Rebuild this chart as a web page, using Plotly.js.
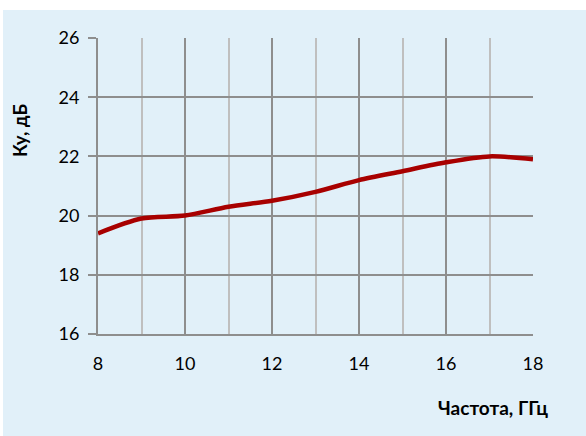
<!DOCTYPE html>
<html><head><meta charset="utf-8">
<script src="https://cdn.plot.ly/plotly-3.0.1.min.js"></script>
<style>html,body{margin:0;padding:0;background:#fff}</style>
</head><body>
<div id="chart" style="width:586px;height:436px"></div>
<script>
const freq = [8, 9, 10, 11, 12, 13, 14, 15, 16, 17, 18];
const gain = [19.4, 19.9, 20.0, 20.3, 20.5, 20.8, 21.2, 21.5, 21.8, 22.0, 21.9];
const xTicks = [8, 10, 12, 14, 16, 18];
const xMinor = [9, 11, 13, 15, 17];
const yTicks = [16, 18, 20, 22, 24, 26];
const xTitle = 'Частота, ГГц';
const yTitle = 'Ку, дБ';

const fontFam = 'Lato, "Open Sans", sans-serif';
const major = '#8E8E8E';
const minorC = '#BFBFBF';

Plotly.newPlot('chart', [{
  x: freq, y: gain, type: 'scatter', mode: 'lines',
  line: {color: '#A80000', width: 4.5, shape: 'spline', smoothing: 0.8},
  hoverinfo: 'skip'
}], {
  width: 586, height: 436,
  margin: {l: 98, r: 53, t: 38, b: 102},
  paper_bgcolor: '#ffffff',
  plot_bgcolor: 'rgba(0,0,0,0)',
  showlegend: false,
  font: {family: fontFam, color: '#000', size: 18},
  xaxis: {
    range: [8, 18], tickmode: 'array', tickvals: xTicks, ticktext: xTicks.map(String),
    showgrid: true, gridcolor: major, gridwidth: 2,
    minor: {tickmode: 'array', tickvals: xMinor, showgrid: true, gridcolor: minorC, gridwidth: 2, ticks: ''},
    showline: true, linecolor: major, linewidth: 2, mirror: false,
    ticks: '', ticklabelstandoff: 12, zeroline: false, fixedrange: true,
    tickfont: {size: 18, family: fontFam}
  },
  yaxis: {
    range: [16, 26], tickvals: yTicks, ticktext: yTicks.map(String),
    showgrid: true, gridcolor: major, gridwidth: 2,
    showline: true, linecolor: major, linewidth: 2,
    ticks: 'outside', ticklen: 8, tickcolor: major, tickwidth: 2,
    ticklabelstandoff: 5, zeroline: false, fixedrange: true,
    tickfont: {size: 18, family: fontFam}
  },
  shapes: [{
    type: 'rect', xref: 'paper', yref: 'paper', layer: 'below',
    x0: -0.2184, x1: 1.125, y0: -0.35, y1: 1.0946,
    fillcolor: '#E1F0F9', line: {width: 0}
  }],
  annotations: [
    {text: '<b>' + yTitle + '</b>', xref: 'paper', yref: 'paper',
     x: (20 - 98) / 435, y: (334 - 131) / 296, xanchor: 'center', yanchor: 'middle',
     textangle: -90, showarrow: false, font: {size: 18.5, family: fontFam}},
    {text: '<b>' + xTitle + '</b>', xref: 'paper', yref: 'paper',
     x: (493 - 98) / 435, y: (334 - 407) / 296, xanchor: 'center', yanchor: 'middle',
     showarrow: false, font: {size: 19, family: fontFam}}
  ]
}, {staticPlot: true, displayModeBar: false});
</script>
</body></html>
